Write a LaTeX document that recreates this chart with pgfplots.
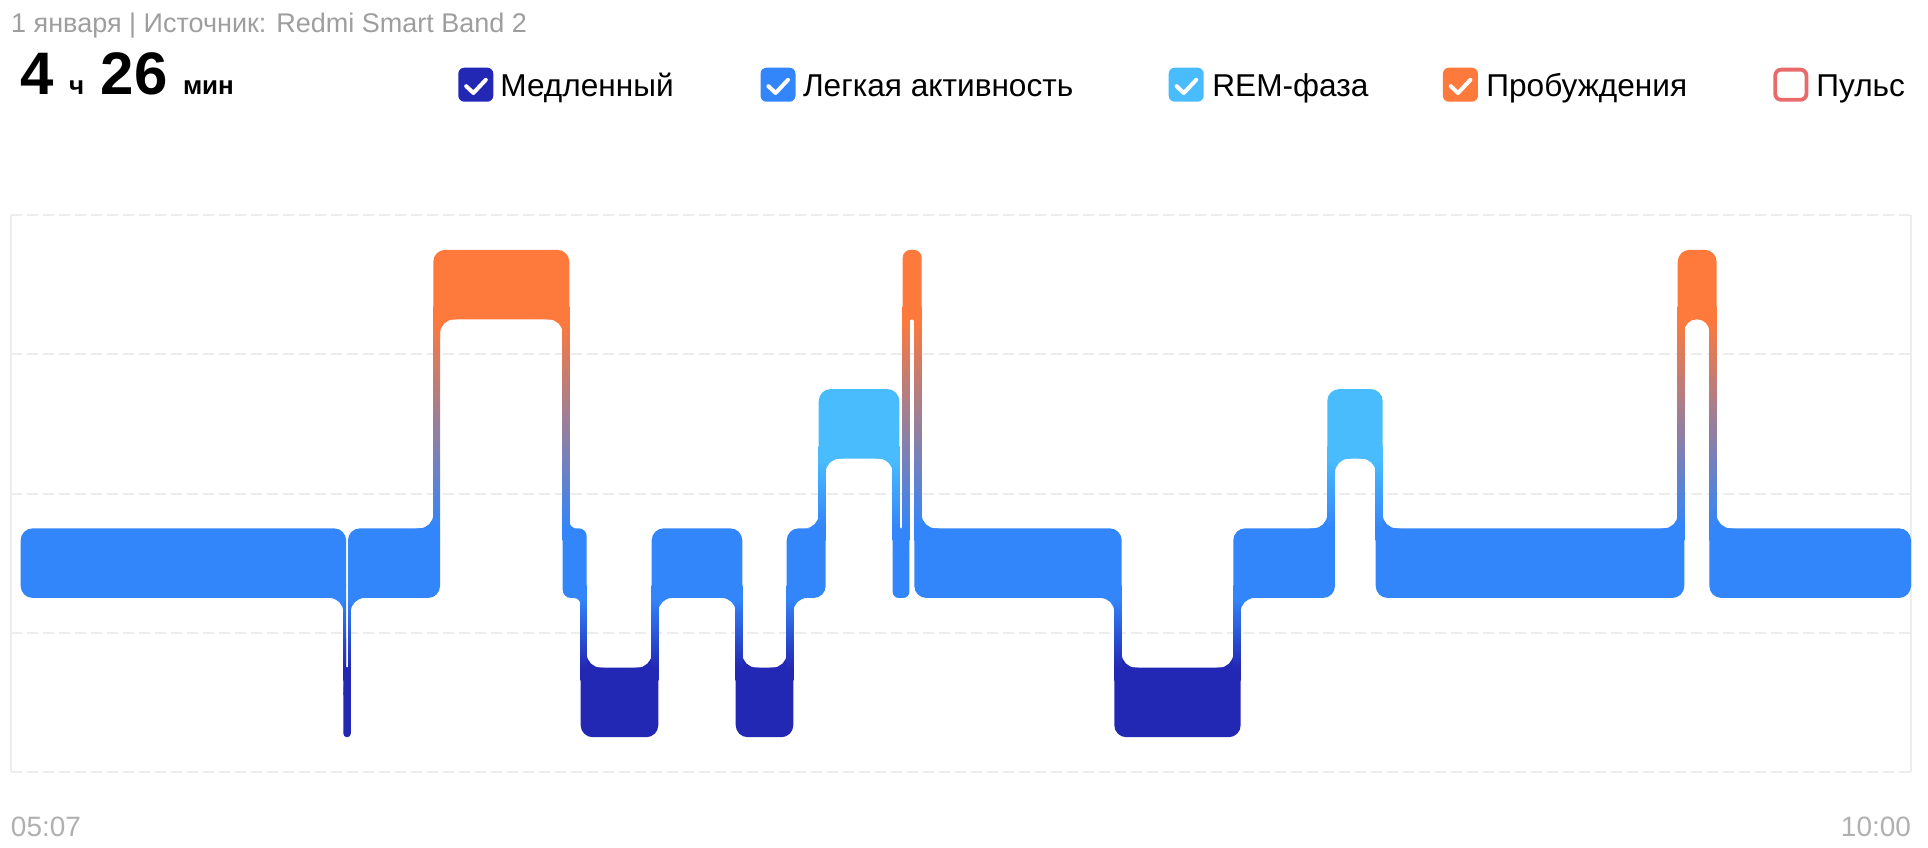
\documentclass[border=0pt]{standalone}
\usepackage{fontspec}
\setmainfont{Liberation Sans}
\usepackage{pgfplots}
\pgfplotsset{compat=1.18}
\definecolor{cDeep}{HTML}{2228B4}
\definecolor{cLight}{HTML}{3385FA}
\definecolor{cREM}{HTML}{49BCFE}
\definecolor{cAwake}{HTML}{FE793C}
\definecolor{cPulse}{HTML}{E86A6A}
\definecolor{gridc}{HTML}{EDEDED}
\definecolor{headc}{HTML}{9E9E9E}
\definecolor{tickc}{HTML}{B0B0B0}
% vertical gradients: solid where the column overlaps a band, blended across the gap
\pgfdeclareverticalshading{shDL}{100bp}{color(0bp)=(cDeep); color(31.6bp)=(cDeep); color(68.4bp)=(cLight); color(100bp)=(cLight)}
\pgfdeclareverticalshading{shLR}{100bp}{color(0bp)=(cLight); color(31.6bp)=(cLight); color(68.4bp)=(cREM); color(100bp)=(cREM)}
\pgfdeclareverticalshading{shLA}{100bp}{color(0bp)=(cLight); color(27.7bp)=(cLight); color(72.3bp)=(cAwake); color(100bp)=(cAwake)}
% stage: start, end (minutes after 05:07), band bottom, band top, colour, corner radius
\newcommand\seg[6]{\addplot[draw=none,fill=#5,rounded corners=#6] coordinates {(#1,#3) (#2,#3) (#2,#4) (#1,#4)} -- cycle;}
% transition column: start, end, bottom, top, shading
\newcommand\con[5]{\addplot[draw=none,shade,shading=#5] coordinates {(#1,#3) (#2,#3) (#2,#4) (#1,#4)} -- cycle;}
% concave fillet where a column meets a band edge:
% x0, y0 (corner), sx (side of the column), sy (side of the band), column width, radius, flange, colour
\newcommand\fil[8]{%
  \pgfmathsetmacro\fa{#1-(#3)*(#7)}%
  \pgfmathsetmacro\fb{#1+(#3)*(#5)}%
  \pgfmathsetmacro\fc{#2+(#4)*0.2}%
  \pgfmathsetmacro\fd{#2+(#4)*0.1}%
  \pgfmathsetmacro\fe{#2-(#4)*0.22}%
  \addplot[draw=none,fill=#8,rounded corners=#6] coordinates {(\fa,\fd) (\fa,\fc) (\fb,\fc) (#1,\fe) (#1,#2) (\fa,#2)} -- cycle;}
\newcommand\chk[2]{%
  \fill[#2,rounded corners=3pt] (#1-8.75pt,-33.85pt) rectangle (#1+8.75pt,-50.85pt);
  \draw[white,line width=2pt,line cap=round,line join=round] (#1-4.8pt,-43.1pt) -- (#1-1.2pt,-46.5pt) -- (#1+5pt,-39.9pt);}
\begin{document}
\begin{tikzpicture}
\path[use as bounding box] (0,0) rectangle (964pt,-423.5pt);
% header
\node[anchor=base west,inner sep=0pt,text=headc,font=\fontsize{13.5}{16}\selectfont] at (5.4pt,-16.35pt) {1 января | Источник: Redmi Smart Band 2};
\node[anchor=base west,inner sep=0pt,font=\fontsize{30}{32}\selectfont\bfseries] at (10.2pt,-47.3pt) {4};
\node[anchor=base west,inner sep=0pt,font=\fontsize{13}{15}\selectfont\bfseries] at (34.3pt,-47.3pt) {ч};
\node[anchor=base west,inner sep=0pt,font=\fontsize{30}{32}\selectfont\bfseries] at (50.2pt,-47.3pt) {26};
\node[anchor=base west,inner sep=0pt,font=\fontsize{13}{15}\selectfont\bfseries] at (91.3pt,-47.3pt) {мин};
% legend
\chk{237.9pt}{cDeep}
\chk{389pt}{cLight}
\chk{593.1pt}{cREM}
\chk{730.2pt}{cAwake}
\draw[cPulse,line width=1.9pt,rounded corners=3pt,fill=white] (895.4pt-7.8pt,-34.8pt) rectangle (895.4pt+7.8pt,-49.9pt);
\begin{scope}[every node/.style={anchor=base west,inner sep=0pt,font=\fontsize{15.8}{17}\selectfont}]
\node at (250pt,-48.35pt) {Медленный};
\node at (401.3pt,-48.35pt) {Легкая активность};
\node at (606pt,-48.35pt) {REM-фаза};
\node at (743pt,-48.35pt) {Пробуждения};
\node at (908pt,-48.35pt) {Пульс};
\end{scope}
\begin{axis}[
  at={(5.5pt,-386pt)}, anchor=south west,
  width=950pt, height=278.5pt, scale only axis,
  xmin=0, xmax=293, ymin=0, ymax=4,
  axis line style={draw=none},
  tick style={draw=none},
  ytick={0,1,2,3,4}, yticklabels={},
  ymajorgrids, y grid style={gridc,line width=1pt,dash pattern=on 5.5pt off 2.5pt},
  xtick={0,293},
  xticklabels={{\makebox[0pt][l]{05:07}},{\makebox[0pt][r]{10:00}}},
  xmajorgrids, x grid style={gridc,line width=1pt,solid},
  xticklabel style={anchor=base,inner sep=0pt,text=tickc,font=\fontsize{14}{16}\selectfont},
  xticklabel shift=32pt,
]
% fillets (deep 0.5, light 1.5, REM 2.5, awake 3.5; bands +-0.25)
\fil{51.25}{1.25}{1}{1}{0.43}{7pt}{4.32}{cLight}
\fil{51.68}{0.75}{-1}{-1}{0.43}{0.4pt}{0.22}{cDeep}
\fil{51.97}{0.75}{1}{-1}{0.43}{0.4pt}{0.20}{cDeep}
\fil{52.40}{1.25}{-1}{1}{0.43}{7pt}{4.32}{cLight}
\fil{65.12}{1.75}{1}{-1}{1.04}{7pt}{4.32}{cLight}
\fil{66.16}{3.25}{-1}{1}{1.04}{7pt}{4.32}{cAwake}
\fil{85.08}{3.25}{1}{1}{1.02}{7pt}{4.32}{cAwake}
\fil{86.10}{1.75}{-1}{-1}{1.02}{3.5pt}{1.45}{cLight}
\fil{87.85}{1.25}{1}{1}{0.93}{3.5pt}{1.54}{cLight}
\fil{88.78}{0.75}{-1}{-1}{0.93}{7pt}{4.32}{cDeep}
\fil{98.80}{0.75}{1}{-1}{1.02}{7pt}{4.32}{cDeep}
\fil{99.82}{1.25}{-1}{1}{1.02}{7pt}{4.32}{cLight}
\fil{111.76}{1.25}{1}{1}{1.01}{7pt}{4.32}{cLight}
\fil{112.77}{0.75}{-1}{-1}{1.01}{7pt}{4.32}{cDeep}
\fil{119.62}{0.75}{1}{-1}{1.02}{7pt}{4.32}{cDeep}
\fil{120.64}{1.25}{-1}{1}{1.02}{7pt}{3.14}{cLight}
\fil{124.56}{1.75}{1}{-1}{1.07}{7pt}{3.09}{cLight}
\fil{125.63}{2.25}{-1}{1}{1.07}{7pt}{4.32}{cREM}
\fil{135.96}{2.25}{1}{1}{1.02}{7pt}{4.32}{cREM}
\fil{136.98}{1.75}{-1}{-1}{1.02}{0.8pt}{0.32}{cLight}
\fil{137.51}{1.75}{1}{-1}{1.02}{0.8pt}{0.31}{cLight}
\fil{138.53}{3.25}{-1}{1}{1.02}{1.2pt}{0.42}{cAwake}
\fil{139.30}{3.25}{1}{1}{1.14}{1.2pt}{0.42}{cAwake}
\fil{140.44}{1.75}{-1}{-1}{1.14}{7pt}{4.32}{cLight}
\fil{170.14}{1.25}{1}{1}{1.14}{7pt}{4.32}{cLight}
\fil{171.28}{0.75}{-1}{-1}{1.14}{7pt}{4.32}{cDeep}
\fil{188.49}{0.75}{1}{-1}{1.14}{7pt}{4.32}{cDeep}
\fil{189.63}{1.25}{-1}{1}{1.14}{7pt}{4.32}{cLight}
\fil{202.98}{1.75}{1}{-1}{1.19}{7pt}{4.32}{cLight}
\fil{204.17}{2.25}{-1}{1}{1.19}{7pt}{4.32}{cREM}
\fil{210.45}{2.25}{1}{1}{1.08}{7pt}{4.32}{cREM}
\fil{211.53}{1.75}{-1}{-1}{1.08}{7pt}{4.32}{cLight}
\fil{257.02}{1.75}{1}{-1}{1.02}{7pt}{4.32}{cLight}
\fil{258.04}{3.25}{-1}{1}{1.02}{6pt}{3.14}{cAwake}
\fil{261.90}{3.25}{1}{1}{1.13}{6pt}{3.03}{cAwake}
\fil{263.03}{1.75}{-1}{-1}{1.13}{7pt}{4.32}{cLight}
% transition columns (reach 0.09 into each band, past the stage corner)
\con{51.25}{51.68}{0.66}{1.34}{shDL}
\con{51.97}{52.40}{0.66}{1.34}{shDL}
\con{65.12}{66.16}{1.66}{3.34}{shLA}
\con{85.08}{86.10}{1.66}{3.34}{shLA}
\con{87.85}{88.78}{0.66}{1.34}{shDL}
\con{98.80}{99.82}{0.66}{1.34}{shDL}
\con{111.76}{112.77}{0.66}{1.34}{shDL}
\con{119.62}{120.64}{0.66}{1.34}{shDL}
\con{124.56}{125.63}{1.66}{2.34}{shLR}
\con{135.96}{136.98}{1.66}{2.34}{shLR}
\con{137.51}{138.53}{1.66}{3.34}{shLA}
\con{139.30}{140.44}{1.66}{3.34}{shLA}
\con{170.14}{171.28}{0.66}{1.34}{shDL}
\con{188.49}{189.63}{0.66}{1.34}{shDL}
\con{202.98}{204.17}{1.66}{2.34}{shLR}
\con{210.45}{211.53}{1.66}{2.34}{shLR}
\con{257.02}{258.04}{1.66}{3.34}{shLA}
\con{261.90}{263.03}{1.66}{3.34}{shLA}
% stages
\seg{1.49}{51.68}{1.25}{1.75}{cLight}{6pt}
\seg{51.25}{52.40}{0.25}{0.75}{cDeep}{1.8pt}
\seg{51.97}{66.16}{1.25}{1.75}{cLight}{6pt}
\seg{65.12}{86.10}{3.25}{3.75}{cAwake}{6pt}
\seg{85.08}{88.78}{1.25}{1.75}{cLight}{4pt}
\seg{87.85}{99.82}{0.25}{0.75}{cDeep}{6pt}
\seg{98.80}{112.77}{1.25}{1.75}{cLight}{6pt}
\seg{111.76}{120.64}{0.25}{0.75}{cDeep}{6pt}
\seg{119.62}{125.63}{1.25}{1.75}{cLight}{6pt}
\seg{124.56}{136.98}{2.25}{2.75}{cREM}{6pt}
\seg{135.96}{138.53}{1.25}{1.75}{cLight}{3pt}
\seg{137.51}{140.44}{3.25}{3.75}{cAwake}{4pt}
\seg{139.30}{171.28}{1.25}{1.75}{cLight}{6pt}
\seg{170.14}{189.63}{0.25}{0.75}{cDeep}{6pt}
\seg{188.49}{204.17}{1.25}{1.75}{cLight}{6pt}
\seg{202.98}{211.53}{2.25}{2.75}{cREM}{6pt}
\seg{210.45}{258.04}{1.25}{1.75}{cLight}{6pt}
\seg{257.02}{263.03}{3.25}{3.75}{cAwake}{6pt}
\seg{261.90}{293.00}{1.25}{1.75}{cLight}{6pt}
\end{axis}
\end{tikzpicture}
\end{document}
